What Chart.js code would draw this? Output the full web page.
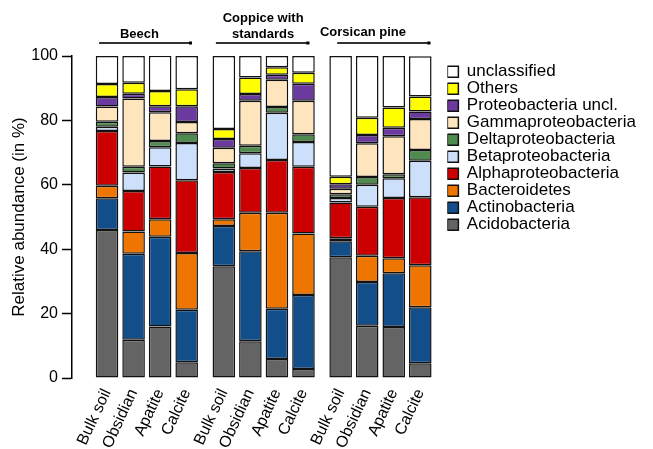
<!DOCTYPE html>
<html>
<head>
<meta charset="utf-8">
<script src="https://cdn.jsdelivr.net/npm/chart.js@4.4.0/dist/chart.umd.min.js"></script>
<style>
  html, body { margin: 0; padding: 0; background: #fff; }
  #wrap { width: 653px; height: 449px; }
</style>
</head>
<body>
<div id="wrap"><canvas id="abundanceChart" width="653" height="449"></canvas></div>
<script>
// sites (groups) and samples inside every site
const sites = ['Beech', ['Coppice with', 'standards'], 'Corsican pine'];
const samples = ['Bulk soil', 'Obsidian', 'Apatite', 'Calcite'];

// relative abundance (%) per bar, in order: Beech x4, Coppice x4, Corsican x4
const acidobacteria      = [46.0, 11.9, 16.0,  4.9, 34.7, 11.4,  5.9,  2.8, 37.5, 16.2, 15.8,  4.6];
const actinobacteria     = [ 9.8, 26.7, 27.9, 16.3, 12.5, 28.0, 15.6, 23.0,  5.0, 13.6, 16.7, 17.4];
const bacteroidetes      = [ 3.9,  6.9,  5.4, 17.6,  2.1, 11.9, 29.8, 19.1,  0.9,  8.2,  4.7, 13.0];
const alphaproteo        = [17.0, 12.6, 16.4, 22.6, 14.7, 13.9, 16.4, 20.7, 11.1, 15.2, 18.7, 21.1];
const betaproteo         = [ 1.3,  5.7,  6.0, 11.6,  1.1,  4.6, 14.7,  7.7,  1.4,  6.8,  6.1, 11.4];
const deltaproteo        = [ 1.6,  1.8,  1.9,  3.0,  1.6,  2.3,  1.8,  2.4,  1.2,  2.4,  1.3,  3.3];
const gammaproteo        = [ 4.7, 21.2,  8.9,  3.5,  4.8, 14.0,  8.4, 10.4,  1.7, 10.5, 11.8,  9.6];
const proteoUncl         = [ 3.0,  1.5,  1.9,  4.9,  2.7,  2.1,  1.6,  5.3,  1.4,  2.6,  2.6,  2.4];
const others             = [ 4.0,  3.4,  4.7,  5.3,  3.1,  5.1,  2.3,  3.4,  2.3,  5.3,  6.3,  4.6];
const unclassified       = [ 8.7,  8.3, 11.0, 10.3, 22.7,  6.7,  3.5,  5.2, 37.5, 19.2, 16.0, 12.5];

const FONT = '"Liberation Sans", Arial, sans-serif';
const groupStep = 4.4; // gap between sites, in bar units

// x position of each bar (linear scale so sites can be spaced apart)
const xPos = [];
sites.forEach((s, g) => samples.forEach((_, j) => xPos.push(g * groupStep + j)));

const series = [
    { label: 'Acidobacteria', data: acidobacteria, color: '#646464' },
    { label: 'Actinobacteria', data: actinobacteria, color: '#124e8a' },
    { label: 'Bacteroidetes', data: bacteroidetes, color: '#ee7600' },
    { label: 'Alphaproteobacteria', data: alphaproteo, color: '#cc0000' },
    { label: 'Betaproteobacteria', data: betaproteo, color: '#cce0fc' },
    { label: 'Deltaproteobacteria', data: deltaproteo, color: '#4f8a4f' },
    { label: 'Gammaproteobacteria', data: gammaproteo, color: '#fee5bd' },
    { label: 'Proteobacteria uncl.', data: proteoUncl, color: '#6b3a9e' },
    { label: 'Others', data: others, color: '#ffff00' },
    { label: 'unclassified', data: unclassified, color: '#ffffff' }
];

// site headers with a line over each group
const groupHeaders = {
    id: 'groupHeaders',
    afterDraw(chart) {
        const { ctx } = chart;
        const x = chart.scales.x;
        const textX = [1.22, 5.88, 9.64];
        const lineSpan = [[-0.3, 3.2], [4.1, 7.62], [8.67, 12.18]];
        ctx.save();
        ctx.font = 'bold 13px ' + FONT;
        ctx.textAlign = 'center';
        ctx.textBaseline = 'middle';
        sites.forEach((site, g) => {
            const cx = x.getPixelForValue(textX[g]);
            ctx.fillStyle = '#000';
            if (Array.isArray(site)) {
                ctx.fillText(site[0], cx, 18);
                ctx.fillText(site[1], cx, 34);
            } else {
                ctx.fillText(site, cx, g === 2 ? 32 : 34);
            }
            const x0 = x.getPixelForValue(lineSpan[g][0]);
            const x1 = x.getPixelForValue(lineSpan[g][1]);
            ctx.strokeStyle = '#333';
            ctx.lineWidth = 2;
            ctx.beginPath();
            ctx.moveTo(x0, 43);
            ctx.lineTo(x1, 43);
            ctx.stroke();
            ctx.fillRect(x1 - 3, 41.5, 3, 3);
        });
        ctx.restore();
    }
};

const ctx = document.getElementById('abundanceChart').getContext('2d');
new Chart(ctx, {
    type: 'bar',
    data: {
        datasets: series.map(s => ({
            label: s.label,
            data: s.data.map((v, i) => ({ x: xPos[i], y: v })),
            backgroundColor: s.color,
            borderColor: '#111',
            borderWidth: 1.5,
            borderSkipped: false,
            barPercentage: 0.85,
            categoryPercentage: 1
        }))
    },
    options: {
        responsive: false,
        animation: false,
        layout: { padding: { top: 56, right: 7, left: 0, bottom: 0 } },
        scales: {
            x: {
                type: 'linear',
                offset: false,
                stacked: true,
                min: -1.32,
                max: 12.82,
                grid: { display: false, drawTicks: false },
                border: { display: false },
                afterBuildTicks: scale => {
                    scale.ticks = xPos.map(v => ({ value: v }));
                },
                afterFit: scale => { scale.height = 71; },
                ticks: {
                    autoSkip: false,
                    minRotation: 65,
                    maxRotation: 65,
                    padding: 8,
                    color: '#000',
                    font: { family: FONT, size: 16 },
                    callback: (value, index) => samples[index % samples.length]
                }
            },
            y: {
                stacked: true,
                min: 0,
                max: 100,
                afterFit: scale => { scale.width = 72; },
                border: { display: true, color: '#000', width: 1.5 },
                grid: {
                    drawOnChartArea: false,
                    drawTicks: true,
                    tickLength: 10,
                    tickWidth: 1.5,
                    tickColor: '#000'
                },
                ticks: {
                    stepSize: 20,
                    padding: 4,
                    color: '#000',
                    font: { family: FONT, size: 16 }
                },
                title: {
                    display: true,
                    text: 'Relative abundance (in %)',
                    color: '#000',
                    padding: { top: 9, bottom: 0 },
                    font: { family: FONT, size: 17 }
                }
            }
        },
        plugins: {
            legend: {
                position: 'right',
                align: 'start',
                reverse: true,
                maxWidth: 210,
                title: { display: true, text: '', padding: { top: 6, bottom: 0 }, font: { size: 1 } },
                labels: {
                    boxWidth: 11,
                    boxHeight: 11,
                    padding: 0,
                    color: '#000',
                    font: { family: FONT, size: 17 }
                }
            },
            tooltip: { enabled: false }
        }
    },
    plugins: [groupHeaders]
});
</script>
</body>
</html>
